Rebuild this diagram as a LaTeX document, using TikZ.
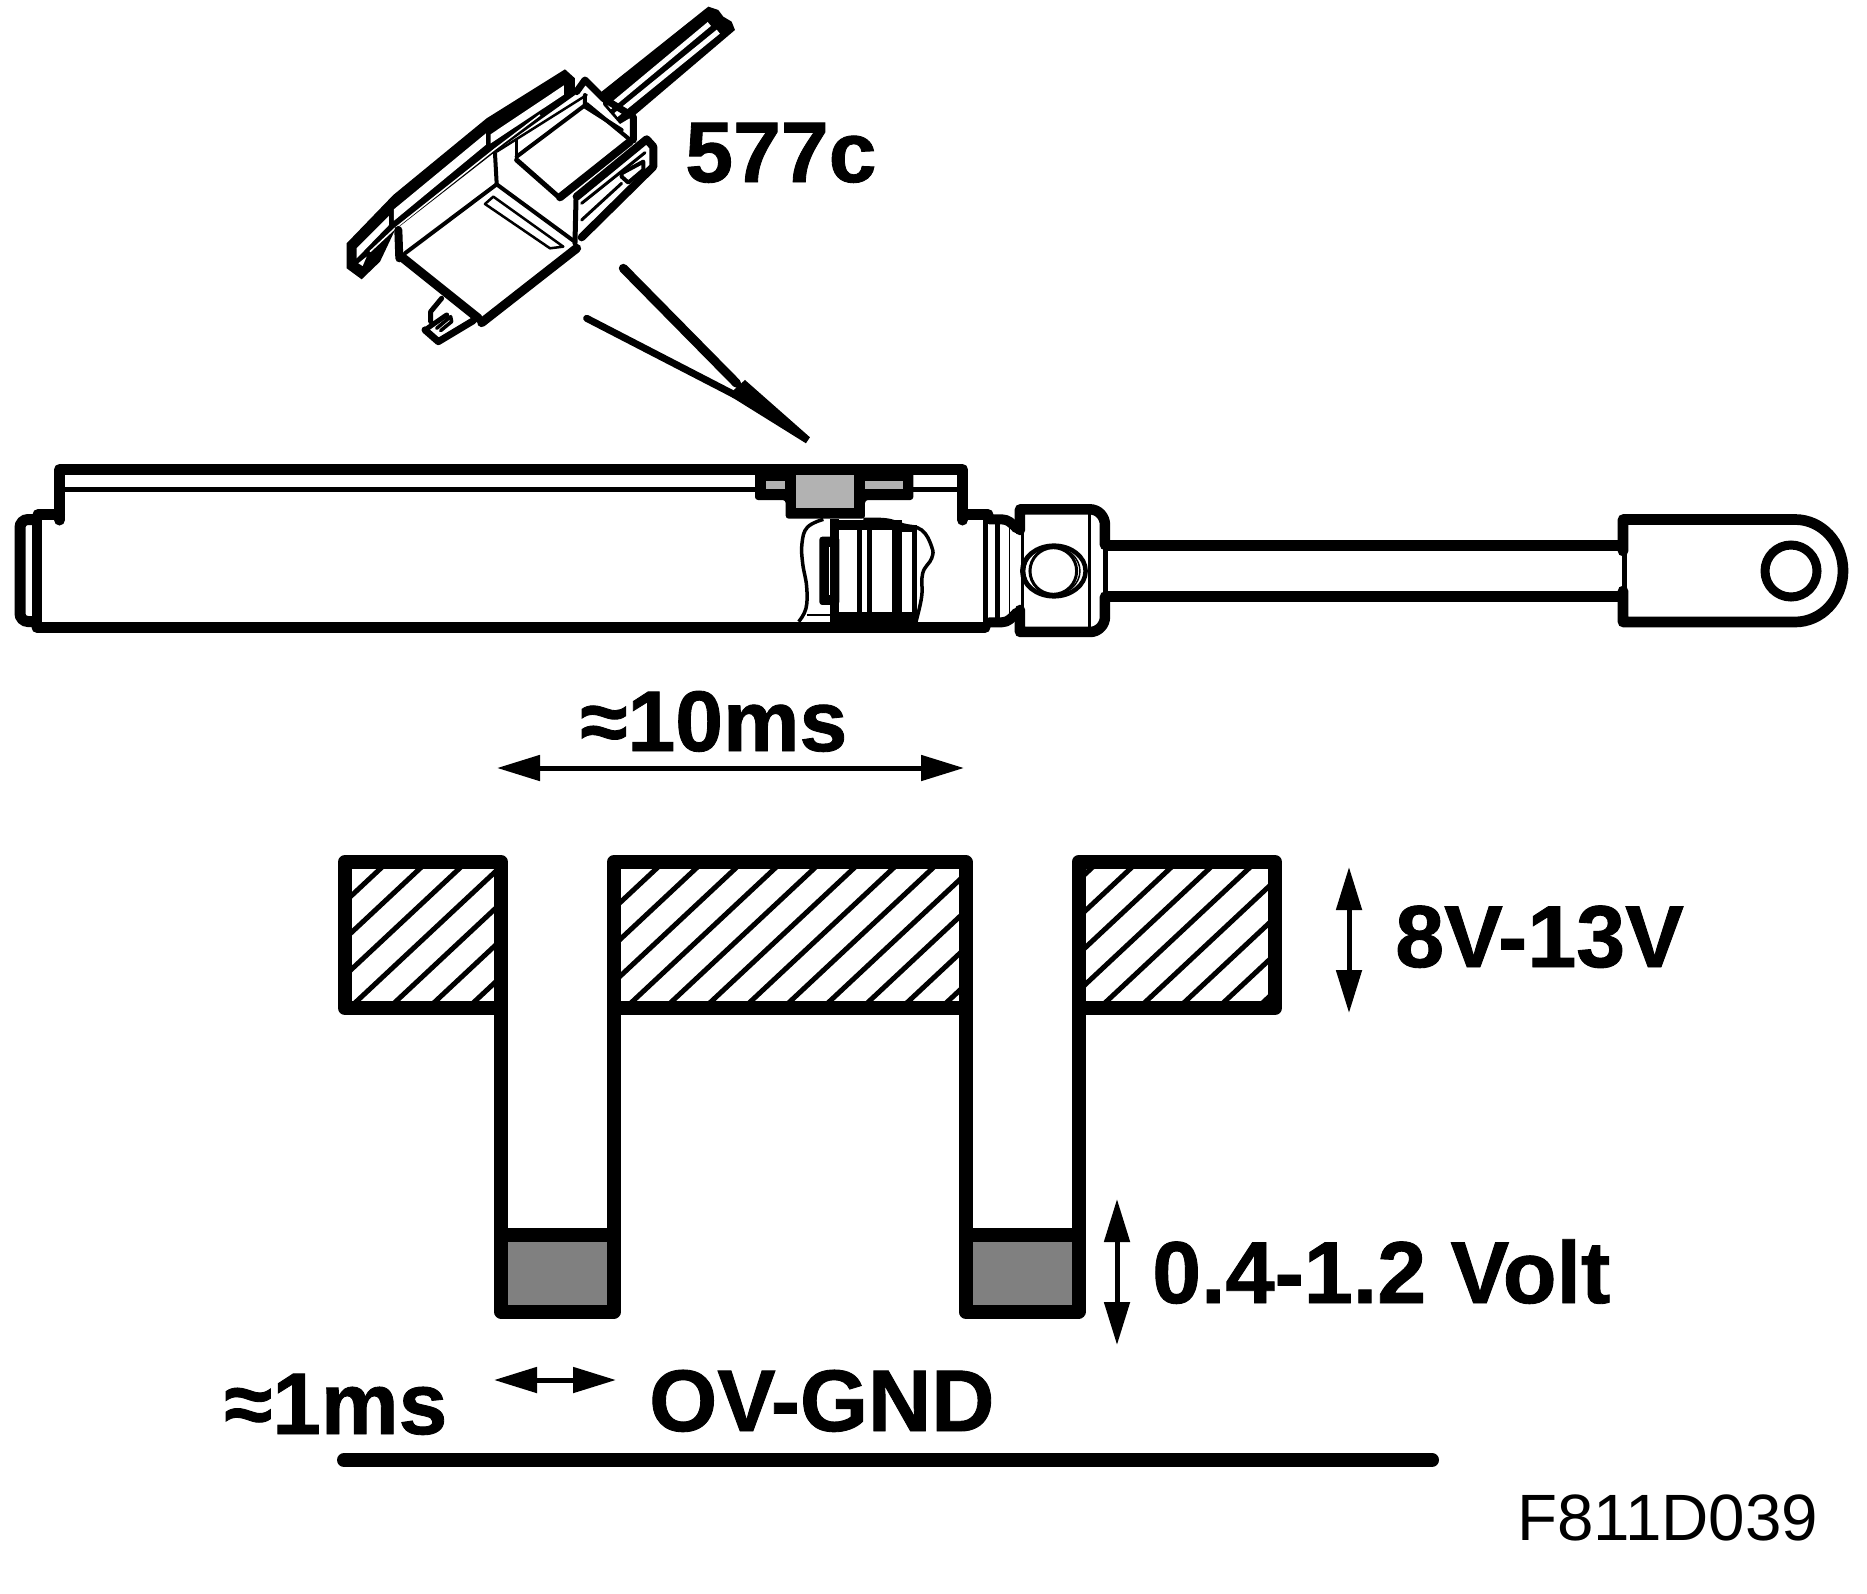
\documentclass[tikz,border=0pt]{standalone}
\usepackage{fontspec}
\setmainfont{Liberation Sans}
\newfontfamily\heavyfont[FakeBold=1]{Liberation Sans Bold}
\usetikzlibrary{arrows.meta}
\definecolor{lightg}{HTML}{B2B2B2}
\definecolor{darkg}{HTML}{808080}
\tikzset{
  heavy/.style={line width=11pt,line cap=round,line join=round},
  thin1/.style={line width=3pt,line join=round},
  pulseline/.style={line width=14pt,line join=round},
  hatchline/.style={line width=5pt},
  dimarrow/.style={line width=5pt,{Triangle[length=43pt,width=25pt]}-{Triangle[length=43pt,width=25pt]}},
  biglabel/.style={anchor=base west,inner sep=0pt,font=\fontsize{#1}{#1}\selectfont\heavyfont},
  codelabel/.style={anchor=base west,inner sep=0pt,font=\fontsize{65.5}{65.5}\selectfont},
  zoomA/.style={shift={(320,0)},x=0.3333pt,y=-0.3333pt},
  zoomB/.style={shift={(700,440)},x=0.3333pt,y=-0.3333pt},
  con/.style={line width=#1pt,line join=round,line cap=round},
}
\begin{document}
\begin{tikzpicture}[x=1pt,y=-1pt]
\useasboundingbox (0,0) rectangle (1867,1593);
\fill[white] (0,0) rectangle (1867,1593);

% ---------- connector 577c
\begin{scope}[zoomA]
  % pins
  \fill (845,275)--(1165,20)--(1195,30)--(1210,50)--(1235,65)--(1245,90)--(945,345)--(900,372)--(850,315)--cycle;
  \draw[white,line width=5pt] (868,322)--(1168,72);
  \draw[white,line width=5pt] (888,345)--(1195,95);
  % flange
  \fill (80,730)--(220,585)--(500,355)--(735,208)--(765,235)--(765,285)--(520,460)--(225,690)--(180,785)--(125,838)--(80,805)--cycle;
  \fill[white] (110,745)--(207,648)--(207,675)--(110,775)--cycle;
  \fill[white] (115,790)--(140,770)--(128,798)--cycle;
  \fill[white] (222,628)--(498,400)--(498,434)--(222,662)--cycle;
  \fill[white] (512,403)--(732,256)--(732,284)--(512,430)--cycle;
  \draw[white,line width=1.5pt] (150,755)--(225,685)--(525,447)--(660,345);
  % top box
  \draw[con=7] (770,275)--(795,240)--(850,295)--(940,350)--(940,420);
  \draw[con=4] (795,285)--(795,320)--(905,390);
  \draw[con=2.5] (530,455)--(800,285);
  \draw[con=3] (590,420)--(590,475);
  \draw[con=4] (590,470)--(800,312)--(925,415);
  \draw[con=5] (590,480)--(715,590);
  \draw[con=8] (720,592)--(930,425);
  % right lug
  \draw[con=8] (770,590)--(980,418)--(1000,440)--(1000,500)--(785,712);
  \draw[con=3] (785,610)--(975,458);
  \draw[con=4] (905,520)--(970,485)--(970,510)--(925,548)--(905,530)--cycle;
  \draw[con=3] (785,660)--(905,550);
  % lower body
  \draw[con=4] (525,460)--(530,550);
  \draw[con=4] (255,760)--(530,553)--(760,722);
  \draw[con=5] (768,600)--(765,730);
  \draw[con=2.5] (495,612)--(520,590)--(730,740)--(690,745)--cycle;
  \draw[con=9] (770,745)--(485,968);
  \draw[con=9] (250,775)--(475,955);
  \draw[con=8] (235,690)--(238,775);
  % tab
  \draw[con=5] (365,895)--(332,935)--(332,965);
  \draw[con=7] (315,990)--(355,1025)--(460,962);
  \draw[con=5] (315,990)--(380,945);
  \draw[con=3.5] (350,985)--(392,950)--(395,965)--(362,992);
  % callout
  \draw[con=9] (910,805)--(1250,1150);
  \draw[con=7] (800,955)--(1245,1185);
  \fill (1225,1185)--(1275,1140)--(1470,1312)--(1458,1330)--cycle;
\end{scope}

% ---------- cylinder
\draw[heavy] (59.5,520)--(59.5,469.5)--(962.5,469.5)--(962.5,520);
\draw[heavy] (59.5,514.5)--(38,514.5);
\draw[heavy] (962.5,514.5)--(988,514.5);
\draw[line width=5pt] (59.5,489)--(962.5,489);
\draw[line width=11pt,rounded corners=8pt] (37,519.5)--(20,519.5)--(20,621.5)--(37,621.5);
\draw[line width=10pt] (37,514)--(37,627);
\draw[line width=11pt,line cap=round] (37,627.5)--(985,627.5);

% ---------- switch, piston, nut (zoom frame)
\begin{scope}[zoomB]
  \fill[white] (168,104)--(640,104)--(640,148)--(168,148)--cycle;
  \fill[rounded corners=3pt] (165,90)--(640,90)--(640,180)--(495,180)--(495,236)--(257,236)--(257,180)--(165,180)--cycle;
  \fill[lightg] (198,122) rectangle (255,148);
  \fill[lightg] (288,104) rectangle (462,204);
  \fill[lightg] (495,122) rectangle (610,148);
  % piston blob
  \draw[line width=3.5pt,line join=round] plot[smooth,tension=0.7] coordinates {(296,545)(318,505)(320,440)(308,370)(306,310)(322,262)(370,238)};
  \draw[line width=3.5pt,line join=round] plot[smooth,tension=0.7] coordinates {(490,238)(560,240)(610,255)(665,270)(695,320)(695,355)(668,400)(665,470)(648,545)};
  \draw[line width=1.5pt] (322,525)--(390,525);
  % piston body
  \fill[rounded corners=3pt] (358,290) rectangle (418,495);
  \fill[white] (388,320) rectangle (396,465);
  \fill (390,238) rectangle (418,548);
  \fill (390,240) rectangle (605,270);
  \fill (600,255) rectangle (650,275);
  \fill (390,515) rectangle (650,548);
  \fill (472,240) rectangle (485,530);
  \fill (500,240) rectangle (515,530);
  \fill (575,240) rectangle (605,530);
  \fill (637,260) rectangle (650,530);
  % collar
  \fill (850,225) rectangle (865,565);
  \fill (885,240) rectangle (900,545);
  \draw[line width=10pt,line join=round,line cap=round] (868,238)--(905,238) to[out=0,in=135] (950,265);
  \draw[line width=10pt,line join=round,line cap=round] (868,547)--(905,547) to[out=0,in=225] (950,518);
  \draw[line width=1pt] (928,260)--(928,518);
  % nut
  \draw[line width=10.5pt,line join=round,line cap=round] (960,270)--(960,208)--(1170,208) to[out=0,in=90] (1215,255)--(1215,315);
  \draw[line width=10.5pt,line join=round,line cap=round] (960,510)--(960,576)--(1170,576) to[out=0,in=-90] (1215,530)--(1215,470);
  \draw[thin1] (968,270)--(968,510);
  \draw[thin1] (1170,215)--(1170,570);
  \draw[line width=5pt] (1217,315)--(1217,470);
  \draw[line width=4.5pt] (1062,393) ellipse [x radius=95,y radius=76];
  \draw[line width=3pt] (1060,393) circle [radius=70];
  \draw[line width=1.5pt] (1057,393) ellipse [x radius=83,y radius=72];
\end{scope}

% ---------- rod and eye
\draw[line width=10.7pt] (1105,545.5)--(1620,545.5);
\draw[line width=10.7pt] (1105,596.5)--(1620,596.5);
\draw[line width=10.7pt,line join=round,line cap=round] (1623,551)--(1623,519.5)--(1795,519.5) arc[start angle=-90,end angle=90,x radius=48,y radius=51.25]--(1623,622)--(1623,591);
\draw[line width=5pt] (1624.5,551)--(1624.5,591);
\draw[line width=9pt] (1791,571) circle [radius=26];

% ---------- pulses
\fill[darkg] (501,1235) rectangle (614,1311.5);
\fill[darkg] (965.5,1235) rectangle (1078.5,1311.5);
\foreach \xa/\ya/\xb/\yb/\st in {345/862/501/1008/357,614/862/965.5/1008/633,1078.5/862/1275/1008/1107}{
  \begin{scope}
    \clip (\xa,\ya) rectangle (\xb,\yb);
    \foreach \k in {-4,...,11}{
      \draw[hatchline] ({\st+39.4*\k-50},{1001+46.75})--({\st+39.4*\k+250},{1001-233.75});
    }
  \end{scope}
  \draw[pulseline] (\xa,\ya) rectangle (\xb,\yb);
}
\draw[pulseline] (501,1008)--(501,1311.5)--(614,1311.5)--(614,1008);
\draw[pulseline] (965.5,1008)--(965.5,1311.5)--(1078.5,1311.5)--(1078.5,1008);
\draw[pulseline] (501,1235)--(614,1235);
\draw[pulseline] (965.5,1235)--(1078.5,1235);
\draw[line width=14pt,line cap=round] (344,1460)--(1432,1460);

% ---------- dimension arrows
\coordinate (tenL) at (497,768);
\coordinate (tenR) at (964,768);
\coordinate (oneL) at (494,1380);
\coordinate (oneR) at (616,1380);
\coordinate (hiT) at (1349,867);
\coordinate (hiB) at (1349,1013);
\coordinate (loT) at (1117,1199);
\coordinate (loB) at (1117,1345);
\draw[dimarrow] (tenL)--(tenR);
\draw[dimarrow] (oneL)--(oneR);
\draw[dimarrow] (hiT)--(hiB);
\draw[dimarrow] (loT)--(loB);

% ---------- labels
\node[biglabel=86] (lblc) at (685,182) {577c};
\node[biglabel=86] (lblten) at (580,751) {≈10ms};
\node[biglabel=88] (lblhi) at (1395,967) {8V-13V};
\node[biglabel=88] (lbllo) at (1152,1303) {0.4-1.2 Volt};
\node[biglabel=87.5] (lblone) at (224,1434) {≈1ms};
\node[biglabel=87.5] (lblgnd) at (649,1431) {OV-GND};
\node[codelabel] (lblcode) at (1517,1540) {F811D039};
\end{tikzpicture}
\end{document}
